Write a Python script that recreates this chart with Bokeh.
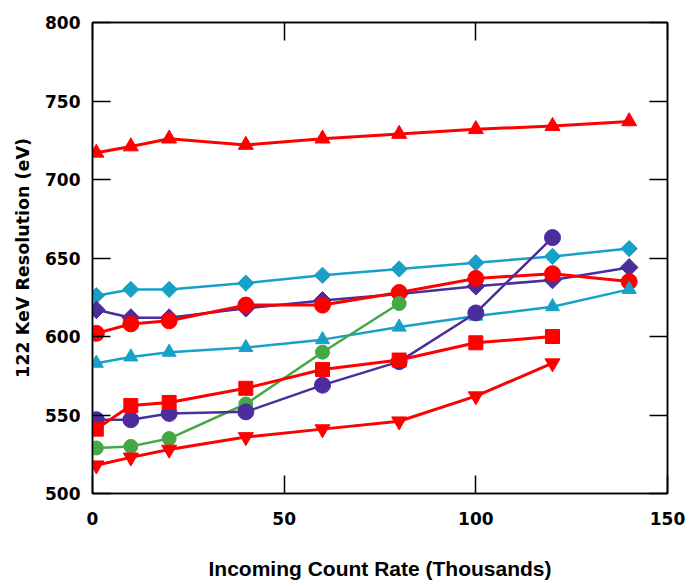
import math
from bokeh.plotting import figure
from bokeh.models import LinearAxis, FixedTicker, Range1d
from bokeh.embed import file_html
from bokeh.resources import INLINE

# ---- data (count rate in thousands, resolution in eV) ----
x9 = [1, 10, 20, 40, 60, 80, 100, 120, 140]
x8 = [1, 10, 20, 40, 60, 80, 100, 120]
x6 = [1, 10, 20, 40, 60, 80]

red_tri = [717, 721, 726, 722, 726, 729, 732, 734, 737]
cyan_dia = [626, 630, 630, 634, 639, 643, 647, 651, 656]
purple_dia = [617, 612, 612, 618, 623, 627, 632, 636, 644]
red_circ = [602, 608, 610, 620, 620, 628, 637, 640, 635]
cyan_tri = [583, 587, 590, 593, 598, 606, 613, 619, 630]
red_sq = [541, 556, 558, 567, 579, 585, 596, 600]
purple_circ = [547, 547, 551, 552, 569, 584, 615, 663]
green_circ = [529, 530, 535, 557, 590, 621]
red_inv = [518, 523, 528, 536, 541, 546, 562, 583]

x_ticks = [0, 50, 100, 150]
y_ticks = [500, 550, 600, 650, 700, 750, 800]

RED = "#FF0000"
CYAN = "#17A1C8"
PURPLE = "#4B2D9B"
GREEN = "#45A845"

p = figure(width=691, height=582, output_backend="svg", toolbar_location=None,
           x_range=Range1d(0, 150), y_range=Range1d(500, 800),
           min_border_left=92, min_border_right=24, min_border_top=22,
           min_border_bottom=40)
p.xgrid.visible = False
p.ygrid.visible = False
p.outline_line_color = "black"
p.outline_line_width = 1.5
p.background_fill_color = "white"
p.border_fill_color = "white"

def series(xs, ys, color, marker, size, lw, angle=0.0):
    p.line(xs, ys, line_color=color, line_width=lw)
    p.scatter(xs, ys, marker=marker, size=size, angle=angle,
              fill_color=color, line_color=color)

series(x9, red_tri, RED, "triangle", 15, 3)
series(x9, cyan_dia, CYAN, "square", 11.5, 2.5, math.pi / 4)
series(x9, purple_dia, PURPLE, "square", 12.5, 2.5, math.pi / 4)
series(x9, red_circ, RED, "circle", 16, 3)
series(x9, cyan_tri, CYAN, "triangle", 14, 2.5)
series(x6, green_circ, GREEN, "circle", 14, 2.5)
series(x8, purple_circ, PURPLE, "circle", 16, 2.5)
series(x8, red_sq, RED, "square", 14, 3)
series(x8, red_inv, RED, "inverted_triangle", 15, 3)

def style(ax, labels=True):
    ax.axis_line_color = "black"
    ax.axis_line_width = 1.5
    ax.major_tick_in = 18
    ax.major_tick_out = 0
    ax.major_tick_line_width = 1.5
    ax.major_tick_line_color = "black"
    ax.minor_tick_line_color = None
    ax.major_label_text_color = "black"
    if not labels:
        ax.major_label_overrides = {t: "" for t in ax.ticker.ticks}
        ax.major_label_text_font_size = "10px"
        ax.major_label_standoff = 0

xa = p.xaxis[0]
xa.ticker = FixedTicker(ticks=x_ticks)
style(xa)
xa.major_label_text_font = "DejaVu Sans"
xa.major_label_text_font_style = "bold"
xa.major_label_text_font_size = "17px"
xa.major_label_standoff = 18
xa.axis_label = "Incoming Count Rate (Thousands)"
xa.axis_label_text_font = "Liberation Sans"
xa.axis_label_text_font_style = "bold"
xa.axis_label_text_font_size = "21px"
xa.axis_label_text_color = "black"
xa.axis_label_standoff = 29

ya = p.yaxis[0]
ya.ticker = FixedTicker(ticks=y_ticks)
style(ya)
ya.major_label_text_font = "DejaVu Sans"
ya.major_label_text_font_style = "bold"
ya.major_label_text_font_size = "17px"
ya.major_label_standoff = 12
ya.axis_label = "122 KeV Resolution (eV)"
ya.axis_label_text_font = "DejaVu Sans"
ya.axis_label_text_font_style = "bold"
ya.axis_label_text_font_size = "17.5px"
ya.axis_label_text_color = "black"
ya.axis_label_standoff = 9

top = LinearAxis(ticker=FixedTicker(ticks=x_ticks))
style(top, labels=False)
p.add_layout(top, "above")
right = LinearAxis(ticker=FixedTicker(ticks=y_ticks))
style(right, labels=False)
p.add_layout(right, "right")

open("out.html", "w").write(file_html(p, INLINE))
